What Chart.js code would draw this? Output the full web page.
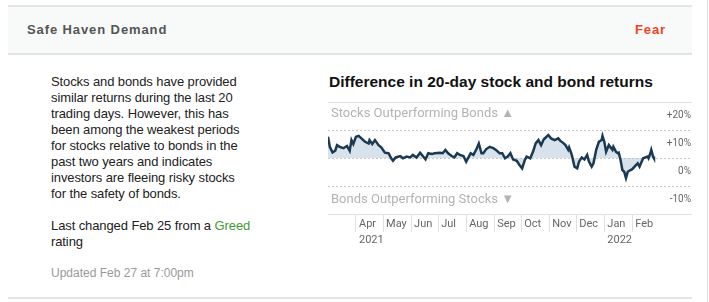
<!DOCTYPE html>
<html>
<head>
<meta charset="utf-8">
<script src="https://cdn.jsdelivr.net/npm/chart.js@4"></script>
<style>
  body { margin: 0; background: #fff; width: 709px; height: 302px; overflow: hidden; position: relative; font-family: "Liberation Sans", Arial, sans-serif; }
  .head { position: absolute; left: 8px; top: 5px; width: 684px; height: 46px; background: #f8f9f9;
          border-top: 2px solid #e3e5e5; border-bottom: 2px solid #e3e5e5; }
  .head .name { position: absolute; left: 19px; top: 15px; font-size: 13px; font-weight: bold; color: #555; letter-spacing: 0.9px; }
  .head .rating { position: absolute; right: 26px; top: 15px; font-size: 13px; font-weight: bold; color: #f0421e; letter-spacing: 0.9px; }
  .vline { position: absolute; left: 707px; top: 0; width: 1px; height: 302px; background: #dcdcdc; }
  .foot { position: absolute; left: 8px; top: 297px; width: 684px; height: 2px; background: #e3e5e5; }
  .desc { position: absolute; left: 51px; top: 74px; font-size: 13px; line-height: 16px; color: #222; white-space: nowrap; letter-spacing: -0.1px; }
  .desc .greed { color: #3f9c35; }
  .upd { position: absolute; left: 51px; top: 266px; font-size: 12px; color: #999; white-space: nowrap; }
  .ctitle { position: absolute; left: 329px; top: 73px; font-size: 15.5px; font-weight: bold; color: #111; white-space: nowrap; }
  .wrap { position: absolute; left: 320px; top: 95px; width: 375px; height: 160px; }
</style>
</head>
<body>
<div class="head"><span class="name">Safe Haven Demand</span><span class="rating">Fear</span></div>
<div class="vline"></div>
<div class="desc">
  Stocks and bonds have provided<br>
  similar returns during the last 20<br>
  trading days. However, this has<br>
  been among the weakest periods<br>
  for stocks relative to bonds in the<br>
  past two years and indicates<br>
  investors are fleeing risky stocks<br>
  for the safety of bonds.<br>
  <br>
  Last changed Feb 25 from a <span class="greed">Greed</span><br>
  rating
</div>
<div class="upd">Updated Feb 27 at 7:00pm</div>
<div class="ctitle">Difference in 20-day stock and bond returns</div>
<div class="wrap"><canvas id="spreadChart"></canvas></div>
<div class="foot"></div>

<script>
// days since 2021-03-01
const days = [0,2,5,8,10,13,17,21,24,26,28,31,34,37,41,45,46,49,52,56,
  59,63,67,70,72,75,80,83,87,91,94,98,102,105,108,111,115,118,124,127,
  130,133,137,140,143,146,150,153,156,158,161,164,167,170,172,175,179,183,186,190,
  193,196,199,202,205,209,212,215,218,220,224,227,230,233,236,239,242,244,247,251,
  255,257,260,263,266,267,270,273,276,278,281,284,287,289,292,294,297,300,303,304,
  306,308,311,315,316,319,321,322,324,326,328,330,332,335,337,340,343,345,349,354,
  355,357,358,360,361];

// stock minus bond 20-day return, %
const spread = [7.6,4.0,2.0,2.6,4.6,4.0,3.5,4.3,2.6,6.4,5.0,7.6,7.9,7.0,5.8,5.2,6.4,5.0,6.4,4.6,
  3.8,1.9,1.7,-0.1,-1.0,0.2,0.7,-0.1,0.5,0.2,1.1,0.2,1.9,0.7,-0.5,1.7,1.4,1.7,1.9,1.7,
  2.9,1.7,0.7,0.2,1.7,1.1,0.7,-1.3,0.5,1.7,1.1,2.9,5.2,1.7,1.7,3.1,4.0,3.5,2.9,1.7,
  1.7,-0.1,0.5,1.7,-0.5,-1.0,-2.5,-3.7,-0.7,0.5,-0.1,2.2,5.2,6.4,4.6,6.7,7.6,8.2,7.0,6.4,
  7.0,6.2,5.5,4.6,2.9,3.8,1.1,-3.1,-3.7,-1.3,0.2,-0.5,1.1,-1.3,-3.1,-1.9,2.9,5.8,6.4,7.9,
  5.8,2.2,4.6,2.9,4.0,2.2,1.7,1.9,-0.7,-4.3,-4.9,-7.2,-4.9,-4.3,-4.0,-2.9,-1.9,-3.1,-0.1,0.5,
  -0.1,1.7,2.9,0.5,-0.1];

// month starts (days since 2021-03-01) and their labels
const monthDays = [31,61,92,122,153,184,214,245,275,306,337];
const monthLabels = [["Apr","2021"],"May","Jun","Jul","Aug","Sep","Oct","Nov","Dec",["Jan","2022"],"Feb"];

const yTicks = [-20,-10,0,10,20];
const yLabels = ["", "-10%", "0%", "+10%", "+20%"];

const bandText = {
  id: "bandText",
  afterDraw(chart) {
    const { ctx, chartArea, scales } = chart;
    const y = scales.y;
    ctx.save();
    ctx.font = "13px Roboto, sans-serif";
    ctx.fillStyle = "#b3b3b3";
    ctx.textBaseline = "middle";
    ctx.textAlign = "left";
    ctx.fillText("Stocks Outperforming Bonds \u25B2", chartArea.left + 3, y.getPixelForValue(20) + 12);
    ctx.fillText("Bonds Outperforming Stocks \u25BC", chartArea.left + 3, y.getPixelForValue(-20) - 14);
    ctx.restore();
  }
};

new Chart(document.getElementById("spreadChart"), {
  type: "line",
  data: {
    datasets: [{
      data: days.map((d, i) => ({ x: d, y: spread[i] })),
      borderColor: "#1b3a52",
      borderWidth: 2.5,
      backgroundColor: "rgba(178,197,220,0.5)",
      fill: "origin",
      pointRadius: 0,
      tension: 0,
    }],
  },
  options: {
    responsive: true,
    maintainAspectRatio: false,
    animation: false,
    layout: { padding: { left: 8, right: 4, top: 7, bottom: 5 } },
    plugins: { legend: { display: false }, tooltip: { enabled: false } },
    scales: {
      x: {
        type: "linear",
        min: 0,
        max: 402,
        afterBuildTicks: (axis) => { axis.ticks = monthDays.map((v) => ({ value: v })); },
        // room for the year line under Apr / Jan
        afterFit: (axis) => { axis.height = 36; },
        grid: { drawOnChartArea: false, tickLength: 18, tickColor: "#e0e0e0" },
        border: { color: "#e3e3e3" },
        ticks: {
          callback: (v, i) => monthLabels[i],
          autoSkip: false,
          maxRotation: 0,
          align: "start",
          labelOffset: 3,
          padding: -16,
          color: "#666",
          font: { family: "Roboto", size: 11, lineHeight: 1.45 },
        },
      },
      x2: {
        type: "linear",
        position: "top",
        min: 0,
        max: 402,
        grid: { display: false, drawTicks: false },
        ticks: { display: false },
        border: { color: "#e3e3e3" },
      },
      y: {
        position: "right",
        min: -20,
        max: 20,
        afterBuildTicks: (axis) => { axis.ticks = yTicks.map((v) => ({ value: v })); },
        grid: {
          drawTicks: false,
          color: (c) => (Math.abs(c.tick.value) === 20 ? "transparent" : "#c9c9c9"),
        },
        border: { display: false, dash: [2, 2] },
        ticks: {
          mirror: true,
          padding: 0,
          labelOffset: 13,
          callback: (v, i) => yLabels[i],
          color: "#666",
          font: { family: "Roboto", size: 10 },
        },
      },
    },
  },
  plugins: [bandText],
});
</script>
</body>
</html>
